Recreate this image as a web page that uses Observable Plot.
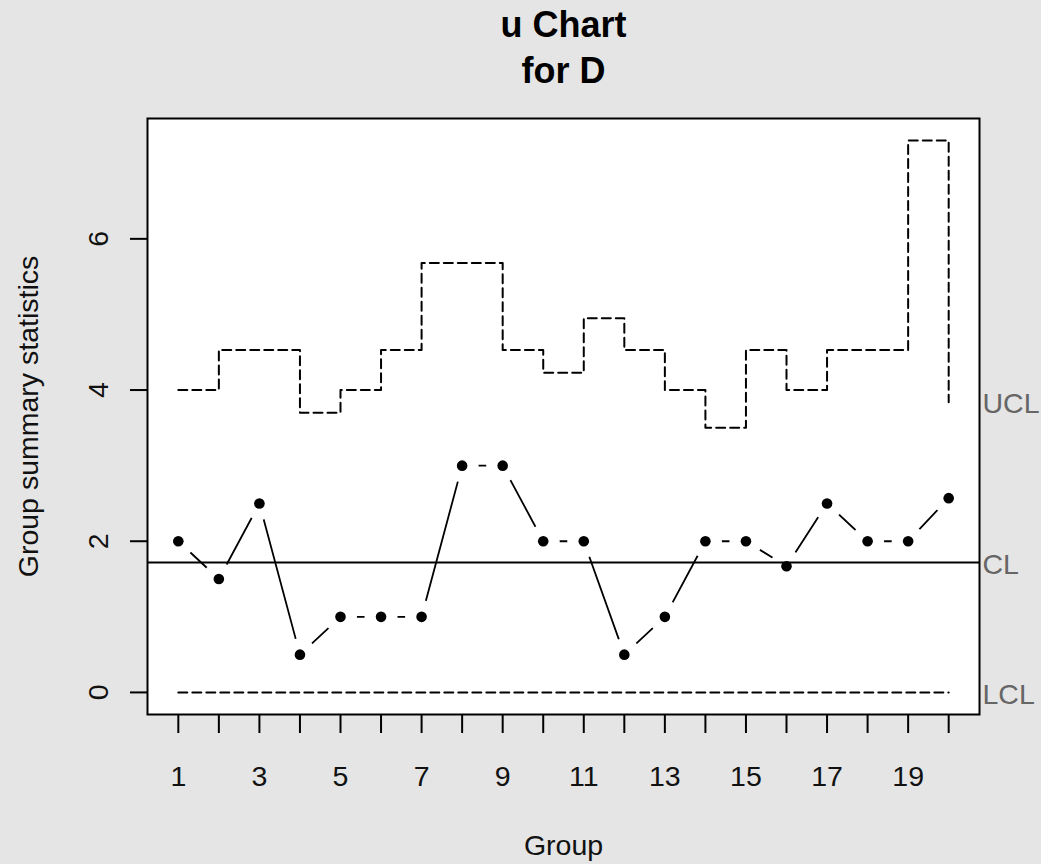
<!DOCTYPE html>
<html>
<head>
<meta charset="utf-8">
<script src="https://cdn.jsdelivr.net/npm/d3@7"></script>
<script src="https://cdn.jsdelivr.net/npm/@observablehq/plot@0.6"></script>
<style>
  html, body { margin: 0; padding: 0; background: #e5e5e5; }
  #chart svg { display: block; }
</style>
</head>
<body>
<div id="chart"></div>
<script>
// ---- data ----
const groups = [1, 2, 3, 4, 5, 6, 7, 8, 9, 10, 11, 12, 13, 14, 15, 16, 17, 18, 19, 20];
const stats  = [2.0, 1.5, 2.5, 0.5, 1.0, 1.0, 1.0, 3.0, 3.0, 2.0, 2.0, 0.5, 1.0, 2.0, 2.0, 1.67, 2.5, 2.0, 2.0, 2.57];
const ucl    = [4.0, 4.53, 4.53, 3.70, 4.0, 4.53, 5.68, 5.68, 4.53, 4.23, 4.95, 4.53, 4.0, 3.50, 4.53, 4.0, 4.53, 4.53, 7.30, 3.84];
const lcl    = [0, 0, 0, 0, 0, 0, 0, 0, 0, 0, 0, 0, 0, 0, 0, 0, 0, 0, 0, 0];
const center = 1.72;
const xTicks = [1, 2, 3, 4, 5, 6, 7, 8, 9, 10, 11, 12, 13, 14, 15, 16, 17, 18, 19, 20];
const xTickLabels = [1, 3, 5, 7, 9, 11, 13, 15, 17, 19];
const yTicks = [0, 2, 4, 6];
const limitNames = ["UCL", "CL", "LCL"];
const titleLines = ["u Chart", "for D"];
const xTitle = "Group";
const yTitle = "Group summary statistics";

// ---- table built from the arrays ----
const table = groups.map((g, i) => ({g, u: stats[i], ucl: ucl[i], lcl: lcl[i]}));
const limitLabels = [
  {label: limitNames[0], value: ucl[ucl.length - 1]},
  {label: limitNames[1], value: center},
  {label: limitNames[2], value: lcl[lcl.length - 1]}
];

// R-style 4% range extension
function extend(lo, hi) { const p = (hi - lo) * 0.04; return [lo - p, hi + p]; }
const xDomain = extend(d3.min(groups), d3.max(groups));
const yDomain = extend(d3.min([...stats, ...lcl]), d3.max([...stats, ...ucl]));

const fs = 28.5;
const font = "'Liberation Sans', Arial, Helvetica, sans-serif";

const chart = Plot.plot({
  width: 1041,
  height: 864,
  marginLeft: 147,
  marginRight: 62,
  marginTop: 118,
  marginBottom: 150,
  style: {background: "#e5e5e5", fontFamily: font, fontSize: fs + "px", color: "#111", overflow: "visible"},
  x: {domain: xDomain},
  y: {domain: yDomain},
  marks: [
    Plot.frame({fill: "white", stroke: "none"}),
    // connector (type "b": gaps around points)
    Plot.line(table, {x: "g", y: "u", stroke: "#000", strokeWidth: 1.8}),
    Plot.dot(table, {x: "g", y: "u", r: 16.5, fill: "white", stroke: "none"}),
    // center line
    Plot.ruleY([center], {stroke: "#000", strokeWidth: 2}),
    // control limits
    Plot.line(table, {x: "g", y: "ucl", curve: "step-after", stroke: "#000", strokeWidth: 2, strokeDasharray: "9,5"}),
    Plot.line(table, {x: "g", y: "lcl", curve: "step-after", stroke: "#000", strokeWidth: 2, strokeDasharray: "9,5"}),
    // points
    Plot.dot(table, {x: "g", y: "u", r: 5.3, fill: "#000", stroke: "none"}),
    Plot.frame({stroke: "#000", strokeWidth: 2}),
    // axes
    Plot.axisX(xTicks, {
      tickSize: 19, tickPadding: 32, strokeWidth: 2, stroke: "#000", fill: "#111",
      fontSize: fs, label: null,
      tickFormat: d => xTickLabels.includes(d) ? String(d) : ""
    }),
    Plot.axisY(yTicks, {tickSize: 17, strokeWidth: 2, stroke: "#000", tickFormat: () => "", label: null}),
    Plot.text(yTicks, {y: d => d, text: d => String(d), frameAnchor: "left", dx: -49, rotate: -90,
      textAnchor: "middle", lineAnchor: "middle", fontSize: fs, fill: "#111"}),
    // limit labels at right
    Plot.text(limitLabels, {y: "value", text: "label", frameAnchor: "right", dx: 3, dy: 2,
      textAnchor: "start", lineAnchor: "middle", fontSize: fs, fill: "#666"}),
    // axis titles
    Plot.text([yTitle], {frameAnchor: "left", dx: -119, rotate: -90, textAnchor: "middle", lineAnchor: "middle",
      fontSize: fs, fill: "#111"}),
    Plot.text([xTitle], {frameAnchor: "bottom", dy: 131, textAnchor: "middle", lineAnchor: "middle",
      fontSize: fs, fill: "#111"}),
    // main title
    Plot.text([titleLines[0]], {frameAnchor: "top", dy: -93, textAnchor: "middle", lineAnchor: "middle",
      fontSize: 36, fontWeight: "bold", fill: "#000"}),
    Plot.text([titleLines[1]], {frameAnchor: "top", dy: -47, textAnchor: "middle", lineAnchor: "middle",
      fontSize: 36, fontWeight: "bold", fill: "#000"})
  ]
});

document.getElementById("chart").appendChild(chart);
</script>
</body>
</html>
